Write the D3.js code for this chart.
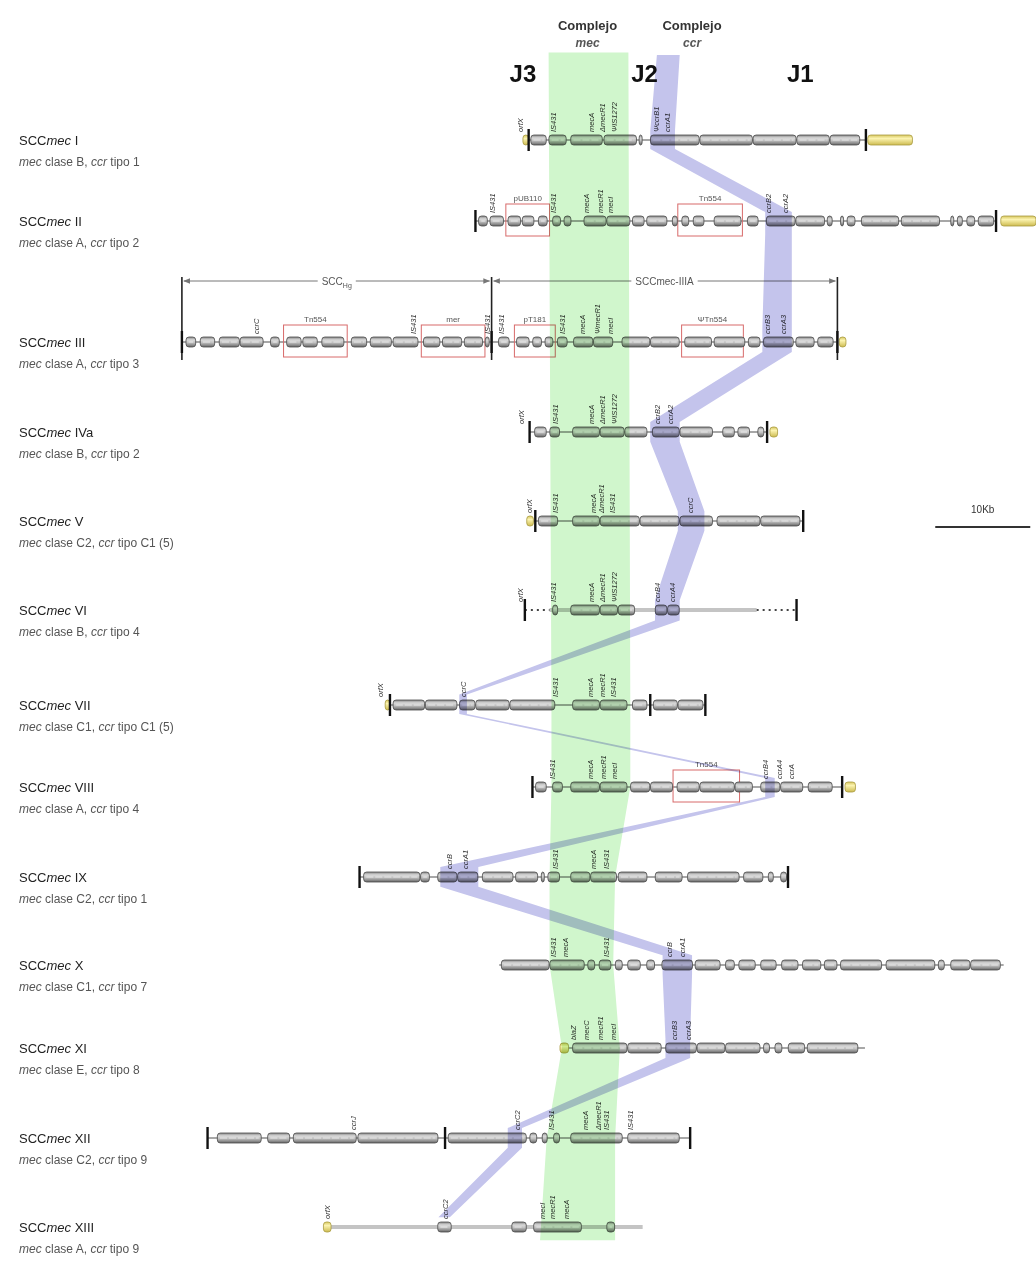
<!DOCTYPE html>
<html>
<head>
<meta charset="utf-8">
<script src="https://cdn.jsdelivr.net/npm/d3@7"></script>
<style>
body{margin:0;background:#fff}
text{font-family:"Liberation Sans",Arial,sans-serif}
.band{mix-blend-mode:multiply}
</style>
</head>
<body>
<svg id="chart" width="1036" height="1262"></svg>
<script>
// element names and types
var rowNames = ["I","II","III","IVa","V","VI","VII","VIII","IX","X","XI","XII","XIII"];
var mecClass = ["B","A","A","B","C2","B","C1","A","C2","C1","E","C2","A"];
var ccrType = ["1","2","3","2","C1 (5)","4","C1 (5)","4","1","7","8","9","9"];

// backbone span of each element (kb)
var rowSpan = [[36.7,72.2],[31.1,85.9],[0.2,69.2],[36.8,61.8],[37.2,65.6],[38.9,60.7],[22.1,55.3],
  [37.1,69.7],[18.9,64.0],[33.6,86.7],[40.2,72.1],[2.9,53.7],[15.8,48.7]];
var rowMarkers = [[36.7,72.2],[31.1,85.9],[0.2,32.8,69.2],[36.8,61.8],[37.4,65.6],[36.3,64.9],[22.1,49.5,55.3],
  [37.1,69.7],[18.9,64.0],[],[],[2.9,27.9,53.7],[]];
var paleRows = [5, 12];
var dottedSegs = [[5,36.3,38.9],[5,60.7,64.9]];

// gene blocks (kb)
var rowBlocks = [
  [[36.9,38.6],[38.8,40.7],[41.1,44.5],[44.6,48.1],[48.3,48.7],[49.5,54.7],[54.7,60.3],[60.3,64.9],[64.9,68.4],[68.4,71.6]],
  [[31.4,32.4],[32.6,34.1],[34.5,35.9],[36.0,37.3],[37.7,38.7],[39.2,40.1],[40.4,41.2],[42.5,44.9],[44.9,47.4],[47.6,48.9],
   [49.1,51.3],[51.8,52.4],[52.8,53.6],[54.0,55.2],[56.2,59.1],[59.7,60.9],[61.7,64.8],[64.8,67.9],[68.1,68.7],[69.5,69.9],
   [70.2,71.1],[71.7,75.7],[75.9,80.0],[81.1,81.5],[81.8,82.4],[82.8,83.7],[84.0,85.7]],
  [[0.6,1.7],[2.1,3.7],[4.1,6.3],[6.3,8.8],[9.5,10.5],[11.2,12.8],[12.9,14.5],[14.9,17.3],[18.0,19.7],[20.0,22.3],
   [22.4,25.1],[25.6,27.4],[27.6,29.7],[29.9,31.9],[32.1,32.6],[33.5,34.7],[35.4,36.8],[37.1,38.1],[38.4,39.3],[39.7,40.8],
   [41.4,43.5],[43.5,45.6],[46.5,49.5],[49.5,52.6],[53.1,56.0],[56.2,59.5],[59.8,61.1],[61.4,64.6],[64.8,66.8],[67.1,68.8]],
  [[37.3,38.6],[38.9,40.0],[41.3,44.2],[44.2,46.8],[46.8,49.2],[49.7,52.6],[52.6,56.1],[57.1,58.4],[58.7,60.0],[60.8,61.5]],
  [[37.7,39.8],[41.3,44.2],[44.2,48.4],[48.4,52.6],[52.6,56.1],[56.5,61.1],[61.1,65.3]],
  [[39.2,39.8],[41.1,44.2],[44.2,46.1],[46.1,47.9],[50.0,51.3],[51.3,52.6]],
  [[22.4,25.8],[25.8,29.2],[29.4,31.1],[31.1,34.7],[34.7,39.5],[41.3,44.2],[44.2,47.1],[47.6,49.2],[49.8,52.4],[52.4,55.1]],
  [[37.4,38.6],[39.2,40.3],[41.1,44.2],[44.2,47.1],[47.4,49.5],[49.5,51.9],[52.3,54.7],[54.7,58.4],[58.4,60.3],[61.1,63.2],
   [63.2,65.6],[66.1,68.7]],
  [[19.3,25.3],[25.3,26.3],[27.1,29.2],[29.2,31.4],[31.8,35.1],[35.3,37.7],[38.0,38.4],[38.7,40.0],[41.1,43.2],[43.2,46.0],
   [46.1,49.2],[50.0,52.9],[53.4,58.9],[59.3,61.4],[61.9,62.5],[63.2,63.9]],
  [[33.8,38.9],[38.9,42.6],[42.9,43.7],[44.1,45.4],[45.8,46.6],[47.1,48.5],[49.1,50.0],[50.7,54.0],[54.2,56.9],[57.4,58.4],
   [58.8,60.6],[61.1,62.8],[63.3,65.1],[65.5,67.5],[67.8,69.2],[69.5,73.9],[74.3,79.5],[79.8,80.5],[81.1,83.2],[83.2,86.4]],
  [[41.3,47.1],[47.1,50.7],[51.1,54.4],[54.4,57.4],[57.4,61.1],[61.4,62.1],[62.6,63.4],[64.0,65.8],[66.0,71.4]],
  [[3.9,8.6],[9.2,11.6],[11.9,18.6],[18.7,27.2],[28.2,36.5],[36.8,37.6],[38.1,38.7],[39.3,40.0],[41.1,46.6],[47.1,52.6]],
  [[27.1,28.6],[34.9,36.5],[37.2,42.3],[44.9,45.8]]
];

// gene labels (kb, name)
var rowGenes = [
  [[35.8,"orfX"],[39.3,"IS431"],[43.3,"mecA"],[44.5,"ΔmecR1"],[45.7,"ΨIS1272"],[50.1,"ΨccrB1"],[51.3,"ccrA1"]],
  [[32.9,"IS431"],[39.3,"IS431"],[42.8,"mecA"],[44.2,"mecR1"],[45.3,"mecI"],[61.9,"ccrB2"],[63.7,"ccrA2"]],
  [[8.0,"ccrC"],[24.6,"IS431"],[32.4,"IS431"],[33.8,"IS431"],[40.2,"IS431"],[42.4,"mecA"],[43.9,"ΨmecR1"],[45.3,"mecI"],[61.8,"ccrB3"],[63.5,"ccrA3"]],
  [[35.9,"orfX"],[39.5,"IS431"],[43.3,"mecA"],[44.5,"ΔmecR1"],[45.7,"ΨIS1272"],[50.2,"ccrB2"],[51.6,"ccrA2"]],
  [[36.8,"orfX"],[39.5,"IS431"],[43.5,"mecA"],[44.4,"ΔmecR1"],[45.5,"IS431"],[53.7,"ccrC"]],
  [[35.8,"orfX"],[39.3,"IS431"],[43.3,"mecA"],[44.5,"ΔmecR1"],[45.7,"ΨIS1272"],[50.2,"ccrB4"],[51.8,"ccrA4"]],
  [[21.1,"orfX"],[29.8,"ccrC"],[39.5,"IS431"],[43.2,"mecA"],[44.5,"mecR1"],[45.6,"IS431"]],
  [[39.2,"IS431"],[43.2,"mecA"],[44.6,"mecR1"],[45.7,"mecI"],[61.6,"ccrB4"],[63.1,"ccrA4"],[64.4,"ccrA"]],
  [[28.4,"ccrB"],[30.0,"ccrA1"],[39.5,"IS431"],[43.5,"mecA"],[44.9,"IS431"]],
  [[39.3,"IS431"],[40.6,"mecA"],[44.9,"IS431"],[51.5,"ccrB"],[52.9,"ccrA1"]],
  [[41.4,"blaZ"],[42.8,"mecC"],[44.3,"mecR1"],[45.6,"mecI"],[52.0,"ccrB3"],[53.5,"ccrA3"]],
  [[18.2,"ccrJ"],[35.5,"ccrC2"],[39.1,"IS431"],[42.7,"mecA"],[44.0,"ΔmecR1"],[44.9,"IS431"],[47.4,"IS431"]],
  [[15.5,"orfX"],[27.9,"ccrC2"],[38.1,"mecI"],[39.2,"mecR1"],[40.7,"mecA"]]
];

// transposons / plasmids boxed in red: row, start, end, name
var redBoxes = [[1,34.3,38.9,"pUB110"],[1,52.4,59.2,"Tn554"],[2,10.9,17.6,"Tn554"],[2,25.4,32.1,"mer"],
  [2,35.2,39.5,"pT181"],[2,52.8,59.3,"ΨTn554"],[7,51.9,58.9,"Tn554"]];
// chromosome flanks (yellow)
var yellowEnds = [[0,36.1,36.7],[0,72.4,77.1],[1,86.4,90.1],[2,69.4,70.1],[3,62.1,62.9],[4,36.5,37.2],
  [6,21.6,22.1],[7,70.0,71.1],[10,40.0,40.9],[12,15.1,15.9]];

// SCCmec III sub-elements
var bracketStops = [0.2, 32.8, 69.2];
var bracketNames = ["SCC", "SCCmec-IIIA"];

// ccr complex band: kb range at each row (top entry above row I)
var ccrTop = [50.2, 52.6];
var ccrBand = [[49.5,52.1],[61.6,64.4],[61.3,64.4],[49.5,52.6],[52.4,55.2],[50.0,52.6],[29.4,30.2],
  [61.6,62.6],[27.4,31.4],[50.8,53.9],[51.1,53.7],[34.5,36.0],[27.2,28.4]];
// mec complex band: row position, kb start, kb end
var mecBand = [[-1.08,38.8,47.2],[6,39.1,47.4],[7,39.1,47.4],[8,38.9,45.8],[9,38.9,45.6],[10,40.2,46.3],
  [11,38.6,45.8],[12.15,37.9,45.8]];

var headers = [[42.9,"Complejo","mec"],[53.9,"Complejo","ccr"]];
var junctions = [[36.1,"J3"],[48.9,"J2"],[65.3,"J1"]];
var scaleKb = [79.5, 89.5];

var svg = d3.select("#chart");
var x = d3.scaleLinear().domain([0, 90]).range([180, 1035]);
var y = d3.scaleLinear().domain(d3.range(13))
  .range([140,221,342,432,521,610,705,787,877,965,1048,1138,1227]);

var defs = svg.append("defs");
function grad(id, stops){
  var lg = defs.append("linearGradient").attr("id", id)
    .attr("x1",0).attr("y1",0).attr("x2",0).attr("y2",1);
  stops.forEach(function(s){ lg.append("stop").attr("offset", s[0]).attr("stop-color", s[1]); });
}
grad("geneFill", [[0,"#858585"],[0.3,"#d9d9d9"],[0.55,"#c2c2c2"],[1,"#666"]]);
grad("yelFill", [[0,"#d8c860"],[0.35,"#fbf3b0"],[1,"#cdbb50"]]);
defs.append("marker").attr("id","arr").attr("viewBox","0 0 10 10").attr("refX",9).attr("refY",5)
  .attr("markerWidth",7).attr("markerHeight",7).attr("orient","auto-start-reverse")
  .append("path").attr("d","M0,1L10,5L0,9z").attr("fill","#777");

// header
headers.forEach(function(h){
  svg.append("text").attr("x", x(h[0])).attr("y", 30).attr("text-anchor","middle")
    .attr("font-size","13px").attr("font-weight","bold").attr("fill","#333").text(h[1]);
  svg.append("text").attr("x", x(h[0])).attr("y", 47).attr("text-anchor","middle")
    .attr("font-size","12px").attr("font-style","italic").attr("font-weight","bold").attr("fill","#555").text(h[2]);
});
junctions.forEach(function(j){
  svg.append("text").attr("x", x(j[0])).attr("y", 82).attr("text-anchor","middle")
    .attr("font-size","24px").attr("font-weight","bold").attr("fill","#111").text(j[1]);
});

// left labels
var lab = svg.append("g");
rowNames.forEach(function(n, i){
  var t1 = lab.append("text").attr("x", 19).attr("y", y(i) + 5).attr("font-size","13px").attr("fill","#222");
  t1.append("tspan").text("SCC");
  t1.append("tspan").attr("font-style","italic").text("mec");
  t1.append("tspan").text(" " + n);
  var t2 = lab.append("text").attr("x", 19).attr("y", y(i) + 26).attr("font-size","12px").attr("fill","#555");
  t2.append("tspan").attr("font-style","italic").text("mec");
  t2.append("tspan").text(" clase " + mecClass[i] + ", ");
  t2.append("tspan").attr("font-style","italic").text("ccr");
  t2.append("tspan").text(" tipo " + ccrType[i]);
});

// SCCmec III brackets
var by = y(2) - 61;
bracketStops.forEach(function(s){
  svg.append("line").attr("x1", x(s)).attr("x2", x(s)).attr("y1", by - 4).attr("y2", y(2) + 18)
    .attr("stroke","#222").attr("stroke-width",1.6);
});
bracketNames.forEach(function(nm, k){
  var a = x(bracketStops[k]), b = x(bracketStops[k+1]), c = (a + b) / 2;
  var t = svg.append("text").attr("x", c).attr("y", by + 4).attr("text-anchor","middle")
    .attr("font-size","10px").attr("fill","#555");
  if (k === 0) {
    t.append("tspan").text(nm);
    t.append("tspan").attr("font-size","7px").attr("dy", 3).text("Hg");
  } else {
    t.text(nm);
  }
  var w = t.node().getComputedTextLength() / 2 + 4;
  svg.append("line").attr("x1", c - w).attr("x2", a + 2).attr("y1", by).attr("y2", by)
    .attr("stroke","#777").attr("stroke-width",1).attr("marker-end","url(#arr)");
  svg.append("line").attr("x1", c + w).attr("x2", b - 2).attr("y1", by).attr("y2", by)
    .attr("stroke","#777").attr("stroke-width",1).attr("marker-end","url(#arr)");
});

// rows
rowNames.forEach(function(n, i){
  var g = svg.append("g").attr("transform", "translate(0," + y(i) + ")");
  var pale = paleRows.indexOf(i) >= 0;
  g.append("line").attr("x1", x(rowSpan[i][0])).attr("x2", x(rowSpan[i][1]))
    .attr("stroke", pale ? "#c4c4c4" : "#8a8a8a").attr("stroke-width", pale ? 4 : 1.5);
  dottedSegs.filter(function(d){ return d[0] === i; }).forEach(function(d){
    g.append("line").attr("x1", x(d[1])).attr("x2", x(d[2]))
      .attr("stroke","#444").attr("stroke-width",2).attr("stroke-dasharray","2 4");
  });
  redBoxes.filter(function(d){ return d[0] === i; }).forEach(function(d){
    g.append("rect").attr("x", x(d[1])).attr("y", -17).attr("width", x(d[2]) - x(d[1])).attr("height", 32)
      .attr("fill","none").attr("stroke","#d86a6a").attr("stroke-width",1);
    g.append("text").attr("x", x((d[1] + d[2]) / 2)).attr("y", -20).attr("text-anchor","middle")
      .attr("font-size","8px").attr("fill","#555").text(d[3]);
  });
  g.selectAll("rect.gene").data(rowBlocks[i]).enter().append("rect").attr("class","gene")
    .attr("x", function(d){ return x(d[0]) + 0.3; })
    .attr("width", function(d){ return Math.max(1.5, x(d[1]) - x(d[0]) - 0.8); })
    .attr("y", -5).attr("height", 10).attr("rx", 3)
    .attr("fill","url(#geneFill)").attr("stroke","#4a4a4a").attr("stroke-width",0.8);
  g.selectAll("line.tex").data(rowBlocks[i].filter(function(d){ return x(d[1]) - x(d[0]) > 8; }))
    .enter().append("line").attr("class","tex")
    .attr("x1", function(d){ return x(d[0]) + 3; }).attr("x2", function(d){ return x(d[1]) - 3; })
    .attr("stroke","#f4f4f4").attr("stroke-width",1.2).attr("stroke-dasharray","7 2").attr("opacity",0.7);
  yellowEnds.filter(function(d){ return d[0] === i; }).forEach(function(d){
    g.append("rect").attr("x", x(d[1])).attr("width", x(d[2]) - x(d[1])).attr("y", -5).attr("height", 10)
      .attr("rx", 3).attr("fill","url(#yelFill)").attr("stroke","#a89a40").attr("stroke-width",0.8);
  });
  rowMarkers[i].forEach(function(m){
    g.append("line").attr("x1", x(m)).attr("x2", x(m)).attr("y1", -11).attr("y2", 11)
      .attr("stroke","#111").attr("stroke-width",2.4);
  });
  rowGenes[i].forEach(function(d){
    g.append("text").attr("transform", "translate(" + x(d[0]) + ",-8) rotate(-90)")
      .attr("dy","0.35em").attr("font-size","7.5px").attr("font-style","italic")
      .attr("fill","#333").text(d[1]);
  });
});

// mec complex band
var bandArea = d3.area().curve(d3.curveLinear)
  .y(function(d){ return y(d[0]); })
  .x0(function(d){ return x(d[1]); })
  .x1(function(d){ return x(d[2]); });
svg.append("path").attr("class","band").attr("d", bandArea(mecBand)).attr("fill","#d0f6cc");

// ccr complex band
var ccrPts = [[-1.05, ccrTop[0], ccrTop[1]]];
ccrBand.forEach(function(r, i){
  ccrPts.push([i - 0.11, r[0], r[1]]);
  if (i < ccrBand.length - 1) ccrPts.push([i + 0.11, r[0], r[1]]);
});
svg.append("path").attr("class","band").attr("d", bandArea(ccrPts)).attr("fill","#c4c4ec");

// scale bar
svg.append("line").attr("x1", x(scaleKb[0])).attr("x2", x(scaleKb[1]))
  .attr("y1", y(4) + 6).attr("y2", y(4) + 6).attr("stroke","#333").attr("stroke-width",2);
svg.append("text").attr("x", x((scaleKb[0] + scaleKb[1]) / 2)).attr("y", y(4) - 8)
  .attr("text-anchor","middle").attr("font-size","10px").attr("fill","#333").text("10Kb");
</script>
</body>
</html>
